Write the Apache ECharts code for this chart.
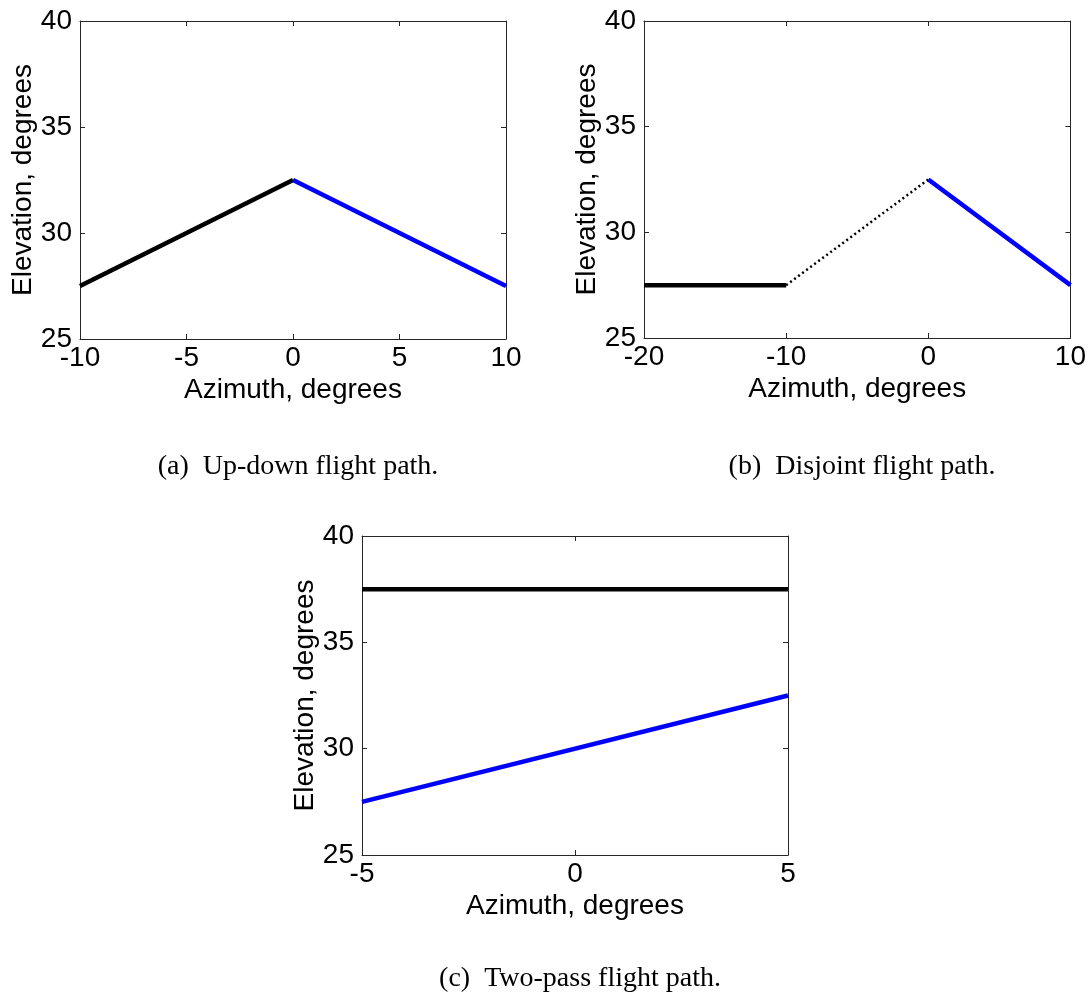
<!DOCTYPE html>
<html>
<head>
<meta charset="utf-8">
<script src="https://cdn.jsdelivr.net/npm/echarts@6/dist/echarts.min.js"></script>
<style>
html,body{margin:0;padding:0;background:#fff;}
#c{width:1089px;height:993px;}
</style>
</head>
<body>
<div id="c"></div>
<script>
// Panel (a) Up-down
const aBlack = [[-10, 27.5], [0, 32.5]];
const aBlue = [[0, 32.5], [10, 27.5]];
// Panel (b) Disjoint
const bBlack = [[-20, 27.5], [-10, 27.5]];
const bDotted = [[-10, 27.5], [0, 32.5]];
const bBlue = [[0, 32.5], [10, 27.5]];
// Panel (c) Two-pass
const cBlack = [[-5, 37.5], [5, 37.5]];
const cBlue = [[-5, 27.5], [5, 32.5]];

const xRanges = [[-10, 10, 5], [-20, 10, 10], [-5, 5, 5]];
const yRange = [25, 40, 5];
const captions = ['(a)  Up-down flight path.', '(b)  Disjoint flight path.', '(c)  Two-pass flight path.'];
const xName = 'Azimuth, degrees';
const yName = 'Elevation, degrees';

const grids = [
  {left: 80, top: 21, width: 426, height: 318},
  {left: 644, top: 21, width: 427, height: 317},
  {left: 362, top: 536, width: 426, height: 319}
];
const captionPos = [[293, 448], [857, 448], [575, 960]];

const axisColor = '#262626';
const labelFont = {fontFamily: 'Liberation Sans', fontSize: 28, color: '#000'};

const xAxis = [], yAxis = [];
grids.forEach((g, i) => {
  const [mn, mx, iv] = xRanges[i];
  const common = {
    type: 'value', gridIndex: i, splitLine: {show: false},
    axisLine: {show: true, onZero: false, lineStyle: {color: axisColor, width: 1}},
    axisTick: {show: true, inside: true, length: 5, lineStyle: {color: axisColor}}
  };
  xAxis.push(Object.assign({}, common, {
    min: mn, max: mx, interval: iv, position: 'bottom',
    name: xName, nameLocation: 'middle', nameGap: 37,
    nameTextStyle: Object.assign({}, labelFont),
    axisLabel: Object.assign({margin: 5}, labelFont)
  }));
  xAxis.push(Object.assign({}, common, {
    min: mn, max: mx, interval: iv, position: 'top',
    axisLabel: {show: false}
  }));
  yAxis.push(Object.assign({}, common, {
    min: yRange[0], max: yRange[1], interval: yRange[2], position: 'left',
    name: yName, nameLocation: 'middle', nameGap: 40,
    nameTextStyle: Object.assign({}, labelFont),
    axisLabel: Object.assign({margin: 8}, labelFont)
  }));
  yAxis.push(Object.assign({}, common, {
    min: yRange[0], max: yRange[1], interval: yRange[2], position: 'right',
    axisLabel: {show: false}
  }));
});

function line(data, gi, color, width, type) {
  return {
    type: 'line', data: data, xAxisIndex: gi * 2, yAxisIndex: gi * 2,
    showSymbol: false, symbol: 'none', animation: false, silent: true,
    lineStyle: {color: color, width: width, type: type || 'solid', cap: 'butt'}
  };
}

const series = [
  line(aBlack, 0, '#000', 4.5),
  line(aBlue, 0, '#0000ff', 4.5),
  line(bBlack, 1, '#000', 4.5),
  line(bDotted, 1, '#000', 2.5, [2, 3]),
  line(bBlue, 1, '#0000ff', 4.5),
  line(cBlack, 2, '#000', 4.5),
  line(cBlue, 2, '#0000ff', 4.5)
];

const title = captions.map((t, i) => ({
  text: t, left: captionPos[i][0], top: captionPos[i][1], textAlign: 'center',
  textStyle: {fontFamily: 'Liberation Serif', fontSize: 28, fontWeight: 'normal', color: '#000'}
}));

const chart = echarts.init(document.getElementById('c'), null, {renderer: 'canvas'});
chart.setOption({
  animation: false,
  backgroundColor: '#fff',
  title: title,
  grid: grids,
  xAxis: xAxis,
  yAxis: yAxis,
  series: series
});
</script>
</body>
</html>
